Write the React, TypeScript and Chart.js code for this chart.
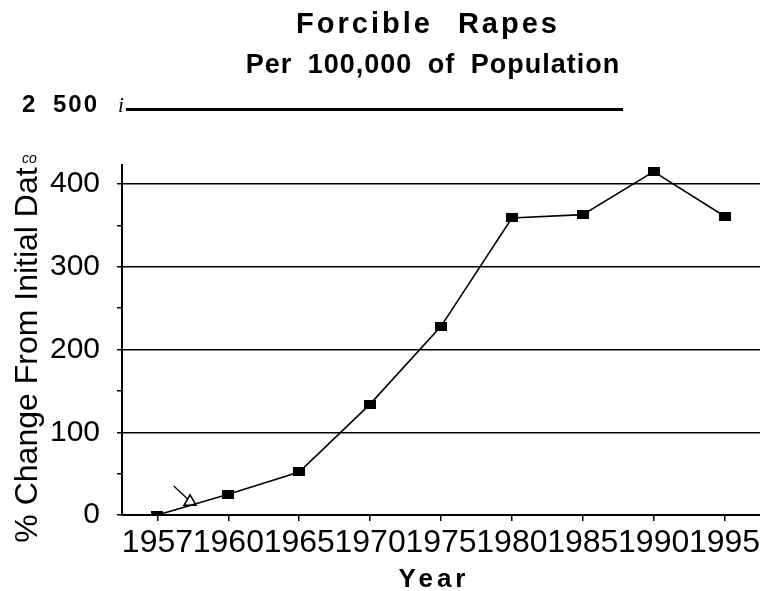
import React, { useEffect, useRef } from 'react';
import { Chart, registerables } from 'chart.js';

Chart.register(...registerables);

// ---- data ----
const years = ['1957', '1960', '1965', '1970', '1975', '1980', '1985', '1990', '1995'];
const pctChange = [0, 25, 52, 134, 228, 359, 363, 415, 361];
const yTickValues = [0, 50, 100, 150, 200, 250, 300, 350, 400];
const yLabelValues = [0, 100, 200, 300, 400];
// hand-drawn triangle marker and arrow near the start (positions in category index units)
const triangleX = [0.46];
const triangleY = [16];
const arrowX = [0.23, 0.43];
const arrowY = [35, 19];

const titleText = 'Forcible Rapes';
const subtitleText = 'Per 100,000 of Population';
const topNoteText = '2 500';
const topNoteMark = 'i';
const yTitleText = '% Change From Initial Dat';
const yTitleMark = 'co';
const xTitleText = 'Year';

const FONT = "'Liberation Sans', Arial, sans-serif";

const textPlugin = {
  id: 'textPlugin',
  afterDraw(chart: any) {
    const ctx: CanvasRenderingContext2D = chart.ctx;
    ctx.save();
    ctx.fillStyle = '#000';
    ctx.strokeStyle = '#000';

    const setSpacing = (ls: number, ws: number) => {
      (ctx as any).letterSpacing = ls + 'px';
      (ctx as any).wordSpacing = ws + 'px';
    };

    // title
    ctx.textAlign = 'center';
    ctx.textBaseline = 'alphabetic';
    ctx.font = `bold 29px ${FONT}`;
    setSpacing(3, 14);
    ctx.fillText(titleText, 428, 33);

    // subtitle
    ctx.font = `bold 27px ${FONT}`;
    setSpacing(1, 7);
    ctx.fillText(subtitleText, 433, 73);

    // "2 500 i" and rule
    ctx.textAlign = 'left';
    ctx.font = `bold 24px ${FONT}`;
    setSpacing(2, 7);
    ctx.fillText(topNoteText, 22, 112);
    setSpacing(0, 0);
    ctx.font = `italic 21px 'Liberation Serif', serif`;
    ctx.fillText(topNoteMark, 118, 112);
    ctx.lineWidth = 3;
    ctx.beginPath();
    ctx.moveTo(126, 109.5);
    ctx.lineTo(623, 109.5);
    ctx.stroke();

    // y title (rotated)
    ctx.save();
    ctx.translate(28, 355);
    ctx.rotate(-Math.PI / 2);
    ctx.textAlign = 'center';
    ctx.textBaseline = 'middle';
    ctx.font = `32px ${FONT}`;
    ctx.fillText(yTitleText, 0, 0);
    ctx.restore();

    ctx.textAlign = 'left';
    ctx.font = `italic 14px ${FONT}`;
    ctx.fillText(yTitleMark, 22, 163);

    // x title
    ctx.textAlign = 'center';
    ctx.font = `bold 26px ${FONT}`;
    setSpacing(4, 0);
    ctx.fillText(xTitleText, 434, 587);
    setSpacing(0, 0);
    ctx.restore();
  },
};

export default function App() {
  const canvasRef = useRef<HTMLCanvasElement | null>(null);

  useEffect(() => {
    const canvas = canvasRef.current;
    if (!canvas) return;

    const square = document.createElement('canvas');
    square.width = 12;
    square.height = 9;
    const sctx = square.getContext('2d')!;
    sctx.fillStyle = '#000';
    sctx.fillRect(0, 0, 12, 9);

    Chart.defaults.font.family = FONT;
    Chart.defaults.color = '#000';

    const chart = new Chart(canvas, {
      type: 'line',
      data: {
        datasets: [
          {
            label: 'Forcible rapes',
            data: years.map((_, i) => ({ x: i, y: pctChange[i] })),
            borderColor: '#000',
            backgroundColor: '#000',
            borderWidth: 1.6,
            pointStyle: square as any,
            pointRadius: 6,
            tension: 0,
          },
          {
            label: 'marker',
            data: triangleX.map((x, i) => ({ x, y: triangleY[i] })),
            showLine: false,
            pointStyle: 'triangle',
            pointRadius: 7,
            borderColor: '#000',
            borderWidth: 1.5,
            backgroundColor: 'rgba(0,0,0,0)',
          },
          {
            label: 'arrow',
            data: arrowX.map((x, i) => ({ x, y: arrowY[i] })),
            borderColor: '#000',
            borderWidth: 1.3,
            pointRadius: 0,
          },
        ],
      },
      options: {
        responsive: false,
        animation: false,
        layout: { autoPadding: false, padding: { top: 165, left: 0, right: 0, bottom: 0 } },
        plugins: {
          legend: { display: false },
          tooltip: { enabled: false },
          title: { display: false },
        },
        scales: {
          x: {
            type: 'linear',
            min: -0.5,
            max: 8.5,
            afterBuildTicks: (s: any) => {
              s.ticks = years.map((_, i) => ({ value: i }));
            },
            ticks: {
              autoSkip: false,
              maxRotation: 0,
              minRotation: 0,
              padding: 3,
              color: '#000',
              font: { size: 32 },
              callback: (v: any) => years[v] ?? '',
            },
            grid: {
              drawOnChartArea: false,
              tickLength: 6,
              color: '#000',
              lineWidth: 1.5,
            },
            border: { color: '#000', width: 2 },
            afterFit: (s: any) => {
              s.height = 76;
              s.paddingLeft = 0;
              s.paddingRight = 0;
            },
          },
          y: {
            min: 0,
            max: 423,
            afterBuildTicks: (s: any) => {
              s.ticks = yTickValues.map((v) => ({ value: v }));
            },
            ticks: {
              autoSkip: false,
              padding: 17,
              color: '#000',
              font: { size: 30 },
              callback: (v: any) => (yLabelValues.includes(v) ? String(v) : ''),
            },
            grid: {
              color: (c: any) => (c.tick && yLabelValues.includes(c.tick.value) ? '#000' : 'rgba(0,0,0,0)'),
              tickColor: '#000',
              tickLength: 5,
              lineWidth: 1.5,
            },
            border: { color: '#000', width: 2 },
            afterFit: (s: any) => {
              s.width = 122;
              s.paddingTop = 0;
              s.paddingBottom = 0;
            },
          },
        },
      },
      plugins: [textPlugin],
    });

    return () => chart.destroy();
  }, []);

  return (
    <div style={{ position: 'absolute', left: 0, top: 0, width: 760, height: 591, background: '#fff' }}>
      <canvas ref={canvasRef} width={760} height={591} style={{ display: 'block' }} />
    </div>
  );
}
